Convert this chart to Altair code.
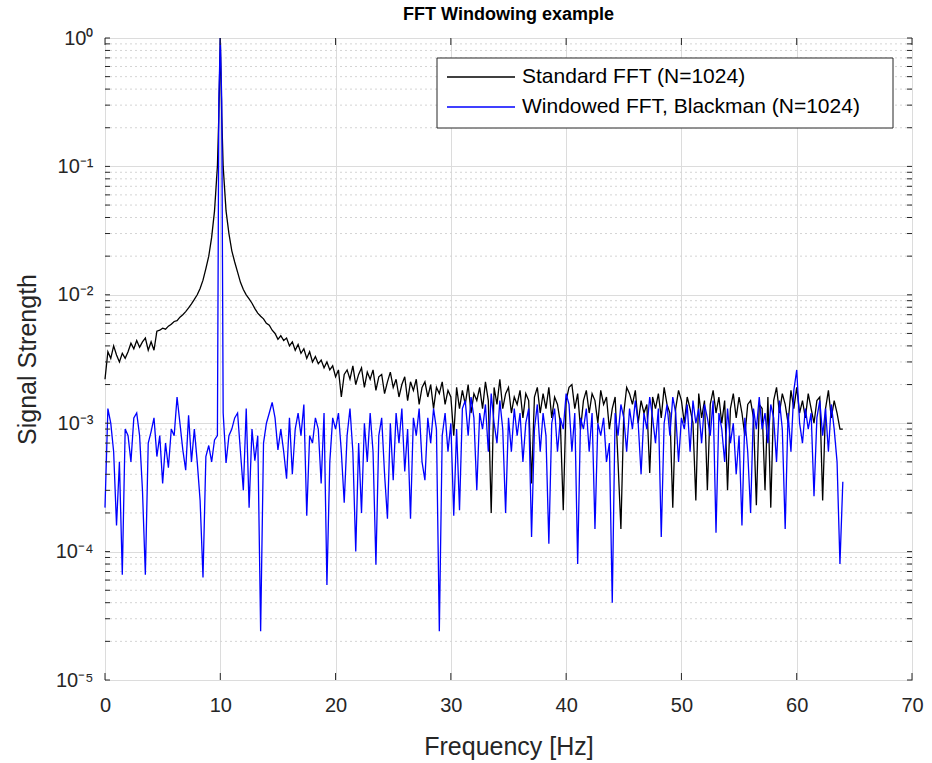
import altair as alt
import pandas as pd

# ---- data (values in units of 1e-3) ----
# frequency bins every 0.25 Hz from 0 to 64 Hz
freq_step = 0.25
black_e3 = [
    2.2, 3.6, 3.2, 4.0,    # 0
    3.4, 3.0, 3.5, 3.2,    # 1
    3.6, 4.2, 3.8, 4.4,    # 2
    3.9, 4.3, 4.6, 3.7,    # 3
    4.3, 3.7, 5.2, 5.3,    # 4
    5.5, 5.4, 5.7, 5.9,    # 5
    6.2, 6.3, 6.7, 7.0,    # 6
    7.4, 7.9, 8.5, 9.2,    # 7
    10.0, 11.2, 13, 16,    # 8
    20, 28, 45, 100,       # 9
    1000, 100, 45, 30,     # 10
    22, 18, 15, 12.5,      # 11
    11, 10, 9.3, 8.6,      # 12
    7.8, 7.2, 6.8, 6.5,    # 13
    6.0, 5.8, 5.3, 5.0,    # 14
    4.5, 4.8, 4.4, 4.6,    # 15
    4.0, 4.3, 3.7, 4.1,    # 16
    3.5, 3.8, 3.2, 3.6,    # 17
    3.0, 3.3, 2.9, 3.1,    # 18
    2.7, 3.0, 2.6, 2.8,    # 19
    2.3, 2.6, 1.6, 2.4,    # 20
    2.6, 2.2, 2.8, 2.0,    # 21
    2.4, 2.7, 1.9, 2.5,    # 22
    2.2, 2.6, 1.8, 2.3,    # 23
    2.4, 1.7, 2.1, 2.5,    # 24
    1.9, 2.2, 1.6, 2.0,    # 25
    2.3, 1.5, 2.1, 1.8,    # 26
    2.2, 1.4, 1.9, 2.1,    # 27
    1.6, 2.0, 1.3, 1.9,    # 28
    1.7, 2.1, 1.4, 1.8,    # 29
    1.6, 0.8, 1.9, 1.3,    # 30
    1.8, 1.4, 2.0, 1.2,    # 31
    1.7, 1.5, 1.9, 1.3,    # 32
    2.1, 1.5, 0.2, 1.9,    # 33
    1.4, 2.2, 1.3, 1.7,    # 34
    1.9, 1.2, 1.6, 1.4,    # 35
    1.8, 1.1, 1.7, 1.5,    # 36
    0.34, 1.6, 1.9, 1.2,   # 37
    1.7, 1.3, 1.9, 1.1,    # 38
    1.6, 1.4, 1.0, 0.21,   # 39
    1.5, 1.9, 2.0, 1.3,    # 40
    1.7, 0.9, 1.5, 1.8,    # 41
    1.2, 1.7, 1.5, 1.0,    # 42
    1.8, 1.4, 1.6, 0.9,    # 43
    1.3, 1.6, 0.5, 0.15,   # 44
    1.2, 1.9, 1.7, 1.4,    # 45
    1.8, 1.0, 1.5, 1.2,    # 46
    1.4, 0.41, 1.6, 1.3,   # 47
    1.7, 1.1, 1.9, 1.4,    # 48
    1.2, 0.22, 1.3, 1.8,   # 49
    1.5, 1.0, 1.6, 1.3,    # 50
    1.0, 0.25, 1.7, 1.1,   # 51
    1.5, 0.3, 1.4, 1.8,    # 52
    1.2, 1.6, 1.0, 1.5,    # 53
    0.3, 1.3, 1.7, 1.1,    # 54
    1.6, 1.2, 0.8, 1.4,    # 55
    1.5, 1.1, 0.23, 1.4,   # 56
    1.3, 0.3, 1.6, 0.22,   # 57
    1.5, 1.9, 1.2, 1.7,    # 58
    1.4, 1.0, 1.8, 1.3,    # 59
    1.9, 1.2, 1.5, 1.1,    # 60
    1.7, 1.3, 1.0, 1.5,    # 61
    1.6, 0.25, 1.3, 1.8,   # 62
    1.1, 1.5, 1.2, 0.9,    # 63
    0.9,                   # 64
]
blue_e3 = [
    0.22, 1.3, 1.0, 0.6,     # 0
    0.16, 0.5, 0.066, 0.9,   # 1
    0.8, 0.5, 1.1, 1.2,      # 2
    0.8, 0.3, 0.066, 0.7,    # 3
    0.86, 1.1, 0.55, 0.8,    # 4
    0.34, 0.7, 0.45, 0.9,    # 5
    0.8, 1.6, 1.0, 0.62,     # 6
    0.43, 1.15, 0.5, 0.9,    # 7
    0.5, 0.25, 0.063, 0.55,  # 8
    0.67, 0.5, 0.74, 0.8,    # 9
    1000, 1.2, 0.49, 0.8,    # 10
    0.9, 1.1, 1.2, 0.6,      # 11
    0.3, 1.3, 0.22, 0.9,     # 12
    0.51, 0.8, 0.024, 0.7,   # 13
    1.0, 1.2, 1.45, 1.1,     # 14
    0.62, 0.9, 0.6, 0.37,    # 15
    1.1, 0.4, 0.9, 1.2,      # 16
    0.8, 1.4, 0.19, 0.8,     # 17
    0.7, 1.1, 0.9, 0.34,     # 18
    1.2, 0.055, 0.5, 1.1,    # 19
    0.9, 1.2, 0.6, 0.24,     # 20
    0.8, 1.3, 0.6, 0.1,      # 21
    0.7, 0.2, 1.0, 0.5,      # 22
    1.2, 0.6, 0.079, 0.8,    # 23
    1.1, 0.4, 0.18, 1.0,     # 24
    0.36, 1.2, 0.7, 1.3,     # 25
    0.42, 0.9, 0.18, 1.1,    # 26
    0.8, 1.3, 0.5, 0.36,     # 27
    1.1, 0.7, 1.3, 0.9,      # 28
    0.024, 0.8, 1.2, 0.6,    # 29
    1.0, 0.19, 0.9, 0.21,    # 30
    1.3, 1.5, 0.8, 1.6,      # 31
    1.1, 0.3, 1.2, 0.9,      # 32
    1.4, 0.6, 1.7, 1.0,      # 33
    0.7, 1.5, 0.9, 0.2,      # 34
    1.1, 0.6, 1.3, 0.8,      # 35
    1.2, 0.5, 1.0, 1.3,      # 36
    0.13, 0.9, 1.4, 0.6,     # 37
    1.2, 0.8, 0.115, 1.0,    # 38
    1.3, 0.6, 1.1, 0.9,      # 39
    1.7, 1.4, 0.6, 1.2,      # 40
    0.08, 1.1, 0.9, 1.3,     # 41
    0.6, 1.2, 0.15, 1.0,     # 42
    0.8, 1.1, 0.5, 0.7,      # 43
    0.04, 1.2, 0.8, 1.4,     # 44
    1.1, 0.6, 1.3, 0.9,      # 45
    1.5, 1.0, 0.4, 1.2,      # 46
    0.9, 1.6, 1.1, 0.7,      # 47
    1.3, 0.13, 1.0, 1.4,     # 48
    0.8, 1.6, 1.2, 0.5,      # 49
    1.1, 0.9, 1.4, 0.6,      # 50
    1.5, 1.0, 1.3, 0.7,      # 51
    1.4, 1.1, 0.8, 1.5,      # 52
    0.14, 1.2, 0.9, 0.5,     # 53
    1.3, 0.7, 1.0, 0.4,      # 54
    0.8, 0.16, 1.1, 0.6,     # 55
    0.2, 1.3, 0.9, 1.6,      # 56
    0.9, 1.2, 0.7, 1.4,      # 57
    1.1, 0.5, 1.5, 0.9,      # 58
    0.15, 1.2, 0.6, 1.8,     # 59
    2.6, 1.0, 0.7, 1.3,      # 60
    0.9, 1.2, 0.27, 1.1,     # 61
    1.5, 0.8, 1.3, 0.6,      # 62
    1.4, 0.9, 0.5, 0.08,     # 63
    0.35,                    # 64
]
# extra points next to the 10 Hz peak
peak_freq = [9.875, 10.125]
peak_black_e3 = [250, 250]
peak_blue_e3 = [330, 330]

series_names = ["Standard FFT (N=1024)", "Windowed FFT, Blackman (N=1024)"]
series_colors = ["#000000", "#0000ff"]

y_major = [1e-5, 1e-4, 1e-3, 1e-2, 1e-1, 1.0]
y_minor = [k * 10.0 ** e for e in range(-5, 0) for k in range(2, 10)]
x_major = [0, 10, 20, 30, 40, 50, 60, 70]

# ---- build tables ----
rows = []
freqs = [i * freq_step for i in range(len(black_e3))]
for name, vals, pk in [(series_names[0], black_e3, peak_black_e3),
                       (series_names[1], blue_e3, peak_blue_e3)]:
    pts = list(zip(freqs, vals)) + list(zip(peak_freq, pk))
    pts.sort()
    for f, v in pts:
        rows.append({"freq": f, "value": v * 1e-3, "series": name})
df = pd.DataFrame(rows)

W, H = 807, 642
FONT = "Liberation Sans"
TXT = "#262626"

yscale = alt.Scale(type="log", domain=[1e-5, 1.0], nice=False)
xscale = alt.Scale(domain=[0, 70], nice=False, zero=False)

label_expr = ("datum.value >= 0.5 ? '10⁰' : datum.value >= 0.05 ? '10⁻¹' : "
              "datum.value >= 0.005 ? '10⁻²' : datum.value >= 0.0005 ? '10⁻³' : "
              "datum.value >= 0.00005 ? '10⁻⁴' : '10⁻⁵'")

xaxis = alt.Axis(values=x_major, title="Frequency [Hz]", grid=True,
                 gridColor="#dcdcdc", tickSize=0, labelPadding=15,
                 labelFlush=False,
                 labelFontSize=20, titleFontSize=25, titlePadding=19,
                 titleFontWeight="normal", domain=False)
yaxis = alt.Axis(values=y_major, title="Signal Strength", grid=True,
                 gridColor="#dcdcdc", tickSize=0, labelPadding=12,
                 labelFlush=False,
                 labelExpr=label_expr, labelFontSize=20, titleFontSize=25,
                 titlePadding=15, titleFontWeight="normal", domain=False)

color = alt.Color("series:N",
                  scale=alt.Scale(domain=series_names, range=series_colors),
                  legend=None)

minor_df = pd.DataFrame({"v": y_minor})
ytick_df = pd.DataFrame({"v": y_major + y_minor})
xtick_df = pd.DataFrame({"v": x_major})

minor_grid = alt.Chart(minor_df).mark_rule(
    color="#d4d4d4", strokeDash=[2, 3], strokeWidth=1
).encode(y=alt.Y("v:Q", scale=yscale, axis=yaxis))

ytick_l = alt.Chart(ytick_df).mark_rule(color=TXT, strokeWidth=1).encode(
    y=alt.Y("v:Q", scale=yscale, axis=yaxis), x=alt.value(0), x2=alt.value(5))
ytick_r = alt.Chart(ytick_df).mark_rule(color=TXT, strokeWidth=1).encode(
    y=alt.Y("v:Q", scale=yscale, axis=yaxis), x=alt.value(W), x2=alt.value(W - 5))
xtick_b = alt.Chart(xtick_df).mark_rule(color=TXT, strokeWidth=1).encode(
    x=alt.X("v:Q", scale=xscale, axis=xaxis), y=alt.value(H), y2=alt.value(H - 7))
xtick_t = alt.Chart(xtick_df).mark_rule(color=TXT, strokeWidth=1).encode(
    x=alt.X("v:Q", scale=xscale, axis=xaxis), y=alt.value(0), y2=alt.value(7))

base = alt.Chart(df)
line_black = base.transform_filter(
    alt.datum.series == series_names[0]).mark_line(strokeWidth=1.3).encode(
    x=alt.X("freq:Q", scale=xscale, axis=xaxis),
    y=alt.Y("value:Q", scale=yscale, axis=yaxis),
    color=color,
)
line_blue = base.transform_filter(
    alt.datum.series == series_names[1]).mark_line(strokeWidth=1.3).encode(
    x=alt.X("freq:Q", scale=xscale, axis=xaxis),
    y=alt.Y("value:Q", scale=yscale, axis=yaxis),
    color=color,
)

# ---- legend box (drawn in plot pixel space) ----
LX0, LX1, LY0, LY1 = 332, 788, 20, 90
leg_one = pd.DataFrame({"k": [0]})
leg_box = alt.Chart(leg_one).mark_rect(
    fill="white", stroke=TXT, strokeWidth=1
).encode(x=alt.value(LX0), x2=alt.value(LX1), y=alt.value(LY0), y2=alt.value(LY1))
leg_layers = [leg_box]
for i, (nm, col) in enumerate(zip(series_names, series_colors)):
    yy = LY0 + 19 + 30 * i
    leg_layers.append(
        alt.Chart(leg_one).mark_rule(strokeWidth=1.3, color=col).encode(
            x=alt.value(LX0 + 10), x2=alt.value(LX0 + 78), y=alt.value(yy)))
    leg_layers.append(
        alt.Chart(leg_one).mark_text(
            align="left", baseline="middle", fontSize=21, font=FONT, color="black"
        ).encode(x=alt.value(LX0 + 85), y=alt.value(yy), text=alt.value(nm)))

chart = alt.layer(
    minor_grid, line_black, line_blue, ytick_l, ytick_r, xtick_b, xtick_t,
    *leg_layers
).properties(
    width=W, height=H,
    title=alt.Title("FFT Windowing example", fontSize=18, fontWeight="bold",
                    font=FONT, color="black", offset=4),
    autosize=alt.AutoSizeParams(type="none"),
    padding={"left": 105, "top": 38, "right": 20, "bottom": 83},
    background="white",
).configure_view(stroke=TXT, strokeWidth=1).configure_axis(
    labelFont=FONT, titleFont=FONT, labelColor=TXT, titleColor=TXT,
)

chart.save("out.html", embed_options={"renderer": "svg", "actions": False})
